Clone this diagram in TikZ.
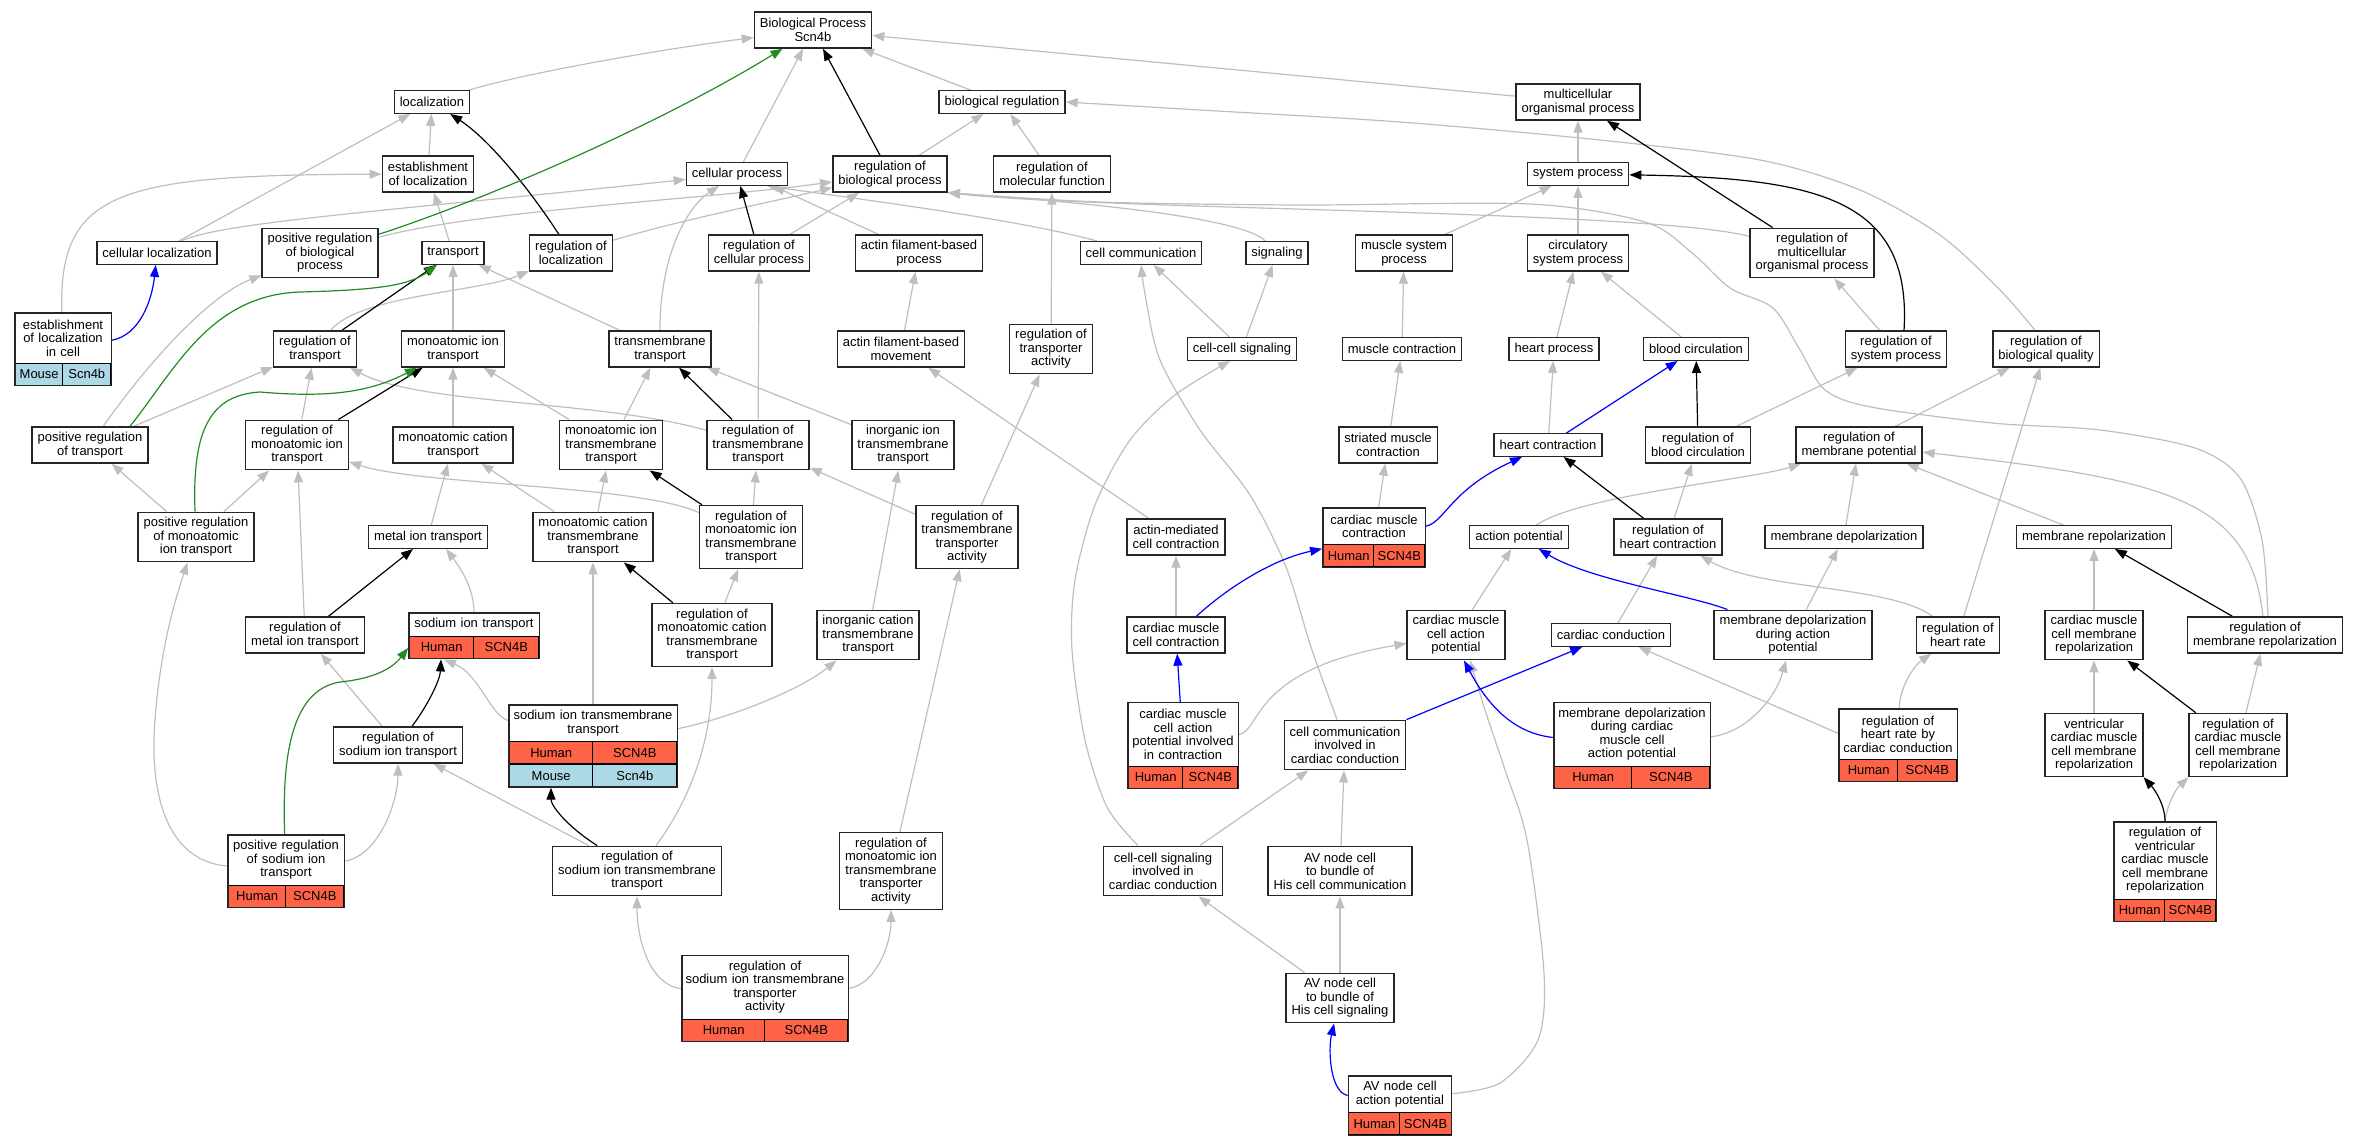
\documentclass[tikz,border=0pt]{standalone}
\usepackage{fontspec}
\setmainfont{Liberation Sans}
\usetikzlibrary{positioning,fit,arrows.meta}
\pgfdeclarelayer{background}
\pgfsetlayers{background,main}
\definecolor{isagray}{HTML}{BEBEBE}
\definecolor{posgreen}{HTML}{228B22}
\definecolor{tomato}{HTML}{FF6347}
\definecolor{mouseblue}{HTML}{ADD8E6}

\begin{document}
\begin{tikzpicture}[x=1pt, y=-1pt, >={Triangle[length=12pt,width=9pt]},
	every node/.style={font=\fontsize{13}{13.5}\selectfont},
	term/.style={draw=black!85, line width=1.4pt, fill=white, align=center, inner xsep=5.5pt, inner ysep=2pt},
	nl/.style={minimum height=#1*13.5pt+9pt},
	tabhead/.style={fill=white, align=center, inner xsep=0pt, inner ysep=2pt, text width=#1, anchor=north},
	hs/.style={draw=black, line width=0.8pt, fill=tomato, minimum height=22pt, inner sep=0pt},
	mm/.style={hs, fill=mouseblue},
	tbl/.style={draw=black!85, line width=1.4pt, inner sep=0pt},
	isa/.style={->, draw=isagray, line width=1.2pt},
	regl/.style={->, draw=black, line width=1.2pt},
	posreg/.style={->, draw=posgreen, line width=1.2pt},
	partof/.style={->, draw=blue, line width=1.2pt}]
	\useasboundingbox (0,0) rectangle (2356,1144);

	% plain terms
	\node[term, nl=2] (bp) at (813,30) {Biological Process\\Scn4b};
	\node[term, nl=1] (loc) at (432,102) {localization};
	\node[term, nl=1] (bioreg) at (1002,102) {biological regulation};
	\node[term, nl=2] (mop) at (1578,102) {multicellular\\organismal process};
	\node[term, nl=2] (estloc) at (428,174) {establishment\\of localization};
	\node[term, nl=1] (cellproc) at (737,174) {cellular process};
	\node[term, nl=2] (regbp) at (890,174) {regulation of\\biological process};
	\node[term, nl=2] (regmf) at (1052,174) {regulation of\\molecular function};
	\node[term, nl=1] (sysproc) at (1578,174) {system process};
	\node[term, nl=1] (cellloc) at (157,253) {cellular localization};
	\node[term, nl=3] (posregbp) at (320,253) {positive regulation\\of biological\\process};
	\node[term, nl=1] (transport) at (453,253) {transport};
	\node[term, nl=2] (regloc) at (571,253) {regulation of\\localization};
	\node[term, nl=2] (regcp) at (759,253) {regulation of\\cellular process};
	\node[term, nl=2] (afbp) at (919,253) {actin filament-based\\process};
	\node[term, nl=1] (cellcomm) at (1141,253) {cell communication};
	\node[term, nl=1] (signaling) at (1277,253) {signaling};
	\node[term, nl=2] (musclesys) at (1404,253) {muscle system\\process};
	\node[term, nl=2] (circsys) at (1578,253) {circulatory\\system process};
	\node[term, nl=3] (regmop) at (1812,253) {regulation of\\multicellular\\organismal process};
	\node[term, nl=2] (regtrans) at (315,349) {regulation of\\transport};
	\node[term, nl=2] (miont) at (453,349) {monoatomic ion\\transport};
	\node[term, nl=2] (tmt) at (660,349) {transmembrane\\transport};
	\node[term, nl=2] (afbm) at (901,349) {actin filament-based\\movement};
	\node[term, nl=3] (regta) at (1051,349) {regulation of\\transporter\\activity};
	\node[term, nl=1] (ccsig) at (1242,349) {cell-cell signaling};
	\node[term, nl=1] (muscont) at (1402,349) {muscle contraction};
	\node[term, nl=1] (heartproc) at (1554,349) {heart process};
	\node[term, nl=1] (bloodcirc) at (1696,349) {blood circulation};
	\node[term, nl=2] (regsys) at (1896,349) {regulation of\\system process};
	\node[term, nl=2] (regbq) at (2046,349) {regulation of\\biological quality};
	\node[term, nl=2] (posregtrans) at (90,445) {positive regulation\\of transport};
	\node[term, nl=3] (regmiont) at (297,445) {regulation of\\monoatomic ion\\transport};
	\node[term, nl=2] (mcatt) at (453,445) {monoatomic cation\\transport};
	\node[term, nl=3] (miontmt) at (611,445) {monoatomic ion\\transmembrane\\transport};
	\node[term, nl=3] (regtmt) at (758,445) {regulation of\\transmembrane\\transport};
	\node[term, nl=3] (iiontmt) at (903,445) {inorganic ion\\transmembrane\\transport};
	\node[term, nl=2] (striated) at (1388,445) {striated muscle\\contraction};
	\node[term, nl=1] (heartcont) at (1548,445) {heart contraction};
	\node[term, nl=2] (regbc) at (1698,445) {regulation of\\blood circulation};
	\node[term, nl=2] (regmp) at (1859,445) {regulation of\\membrane potential};
	\node[term, nl=3] (posregmiont) at (196,537) {positive regulation\\of monoatomic\\ion transport};
	\node[term, nl=1] (metalt) at (428,537) {metal ion transport};
	\node[term, nl=3] (mcattmt) at (593,537) {monoatomic cation\\transmembrane\\transport};
	\node[term, nl=4] (regmiontmt) at (751,537) {regulation of\\monoatomic ion\\transmembrane\\transport};
	\node[term, nl=4] (regtmta) at (967,537) {regulation of\\transmembrane\\transporter\\activity};
	\node[term, nl=2] (amcc) at (1176,537) {actin-mediated\\cell contraction};
	\node[term, nl=1] (ap) at (1519,537) {action potential};
	\node[term, nl=2] (reghc) at (1668,537) {regulation of\\heart contraction};
	\node[term, nl=1] (mdep) at (1844,537) {membrane depolarization};
	\node[term, nl=1] (mrep) at (2094,537) {membrane repolarization};
	\node[term, nl=2] (regmetal) at (305,635) {regulation of\\metal ion transport};
	\node[term, nl=4] (regmcattmt) at (712,635) {regulation of\\monoatomic cation\\transmembrane\\transport};
	\node[term, nl=3] (icattmt) at (868,635) {inorganic cation\\transmembrane\\transport};
	\node[term, nl=2] (cmcc) at (1176,635) {cardiac muscle\\cell contraction};
	\node[term, nl=3] (cmcap) at (1456,635) {cardiac muscle\\cell action\\potential};
	\node[term, nl=1] (cardcond) at (1611,635) {cardiac conduction};
	\node[term, nl=3] (mdepap) at (1793,635) {membrane depolarization\\during action\\potential};
	\node[term, nl=2] (reghr) at (1958,635) {regulation of\\heart rate};
	\node[term, nl=3] (cmcmr) at (2094,635) {cardiac muscle\\cell membrane\\repolarization};
	\node[term, nl=2] (regmr) at (2265,635) {regulation of\\membrane repolarization};
	\node[term, nl=2] (regsit) at (398,745) {regulation of\\sodium ion transport};
	\node[term, nl=3] (cccc) at (1345,745) {cell communication\\involved in\\cardiac conduction};
	\node[term, nl=4] (vcmcmr) at (2094,745) {ventricular\\cardiac muscle\\cell membrane\\repolarization};
	\node[term, nl=4] (regcmcmr) at (2238,745) {regulation of\\cardiac muscle\\cell membrane\\repolarization};
	\node[term, nl=3] (regsitmt) at (637,871) {regulation of\\sodium ion transmembrane\\transport};
	\node[term, nl=5] (regmiontmta) at (891,871) {regulation of\\monoatomic ion\\transmembrane\\transporter\\activity};
	\node[term, nl=3] (ccsigcc) at (1163,871) {cell-cell signaling\\involved in\\cardiac conduction};
	\node[term, nl=3] (avcomm) at (1340,871) {AV node cell\\to bundle of\\His cell communication};
	\node[term, nl=3] (avsig) at (1340,998) {AV node cell\\to bundle of\\His cell signaling};

	% annotated terms
	\node[tabhead=96pt, nl=3] (elcx) at (63,313) {establishment\\of localization\\in cell};
	\node[mm, minimum width=48pt, below right=0pt and 0pt of elcx.south west] (elca) {Mouse};
	\node[mm, minimum width=48pt, below left=0pt and 0pt of elcx.south east] (elcb) {Scn4b};
	\node[tbl, fit=(elcx)(elca)(elcb)] (elc) {};

	\node[tabhead=102pt, nl=2] (cmcx) at (1374,508) {cardiac muscle\\contraction};
	\node[hs, minimum width=51pt, below right=0pt and 0pt of cmcx.south west] (cmca) {Human};
	\node[hs, minimum width=51pt, below left=0pt and 0pt of cmcx.south east] (cmcb) {SCN4B};
	\node[tbl, fit=(cmcx)(cmca)(cmcb)] (cmc) {};

	\node[tabhead=130pt, nl=1] (sitx) at (474,613) {sodium ion transport};
	\node[hs, minimum width=65pt, below right=0pt and 0pt of sitx.south west] (sita) {Human};
	\node[hs, minimum width=65pt, below left=0pt and 0pt of sitx.south east] (sitb) {SCN4B};
	\node[tbl, fit=(sitx)(sita)(sitb)] (sit) {};

	\node[tabhead=168pt, nl=2] (sitmtx) at (593,705) {sodium ion transmembrane\\transport};
	\node[hs, minimum width=84pt, below right=0pt and 0pt of sitmtx.south west] (sitmta) {Human};
	\node[hs, minimum width=84pt, below left=0pt and 0pt of sitmtx.south east] (sitmtb) {SCN4B};
	\node[mm, minimum width=84pt, below=0pt of sitmta] (sitmtc) {Mouse};
	\node[mm, minimum width=84pt, below=0pt of sitmtb] (sitmtd) {Scn4b};
	\node[tbl, fit=(sitmtx)(sitmtc)(sitmtd)] (sitmt) {};

	\node[tabhead=110pt, nl=4] (cmcapcx) at (1183,702.5) {cardiac muscle\\cell action\\potential involved\\in contraction};
	\node[hs, minimum width=55pt, below right=0pt and 0pt of cmcapcx.south west] (cmcapca) {Human};
	\node[hs, minimum width=55pt, below left=0pt and 0pt of cmcapcx.south east] (cmcapcb) {SCN4B};
	\node[tbl, fit=(cmcapcx)(cmcapca)(cmcapcb)] (cmcapc) {};

	\node[tabhead=156pt, nl=4] (mdepcmx) at (1632,702.5) {membrane depolarization\\during cardiac\\muscle cell\\action potential};
	\node[hs, minimum width=78pt, below right=0pt and 0pt of mdepcmx.south west] (mdepcma) {Human};
	\node[hs, minimum width=78pt, below left=0pt and 0pt of mdepcmx.south east] (mdepcmb) {SCN4B};
	\node[tbl, fit=(mdepcmx)(mdepcma)(mdepcmb)] (mdepcm) {};

	\node[tabhead=118pt, nl=3] (reghrccx) at (1898,709) {regulation of\\heart rate by\\cardiac conduction};
	\node[hs, minimum width=59pt, below right=0pt and 0pt of reghrccx.south west] (reghrcca) {Human};
	\node[hs, minimum width=59pt, below left=0pt and 0pt of reghrccx.south east] (reghrccb) {SCN4B};
	\node[tbl, fit=(reghrccx)(reghrcca)(reghrccb)] (reghrcc) {};

	\node[tabhead=116pt, nl=3] (posregsitx) at (286,835) {positive regulation\\of sodium ion\\transport};
	\node[hs, minimum width=58pt, below right=0pt and 0pt of posregsitx.south west] (posregsita) {Human};
	\node[hs, minimum width=58pt, below left=0pt and 0pt of posregsitx.south east] (posregsitb) {SCN4B};
	\node[tbl, fit=(posregsitx)(posregsita)(posregsitb)] (posregsit) {};

	\node[tabhead=102pt, nl=5] (regvcmcmrx) at (2165,822) {regulation of\\ventricular\\cardiac muscle\\cell membrane\\repolarization};
	\node[hs, minimum width=51pt, below right=0pt and 0pt of regvcmcmrx.south west] (regvcmcmra) {Human};
	\node[hs, minimum width=51pt, below left=0pt and 0pt of regvcmcmrx.south east] (regvcmcmrb) {SCN4B};
	\node[tbl, fit=(regvcmcmrx)(regvcmcmra)(regvcmcmrb)] (regvcmcmr) {};

	\node[tabhead=166pt, nl=4] (regsitmtax) at (765,955.5) {regulation of\\sodium ion transmembrane\\transporter\\activity};
	\node[hs, minimum width=83pt, below right=0pt and 0pt of regsitmtax.south west] (regsitmtaa) {Human};
	\node[hs, minimum width=83pt, below left=0pt and 0pt of regsitmtax.south east] (regsitmtab) {SCN4B};
	\node[tbl, fit=(regsitmtax)(regsitmtaa)(regsitmtab)] (regsitmta) {};

	\node[tabhead=103pt, nl=2] (avapx) at (1400,1076) {AV node cell\\action potential};
	\node[hs, minimum width=51.5pt, below right=0pt and 0pt of avapx.south west] (avapa) {Human};
	\node[hs, minimum width=51.5pt, below left=0pt and 0pt of avapx.south east] (avapb) {SCN4B};
	\node[tbl, fit=(avapx)(avapa)(avapb)] (avap) {};

	\begin{pgfonlayer}{background}
		% is_a
		\draw[isa] (loc) .. controls (510,77) and (640,52) .. (bp);
		\draw[isa] (cellproc) -- (bp);
		\draw[isa] (bioreg) -- (bp);
		\draw[isa] (mop) -- (bp);
		\draw[isa] (regbp) -- (bioreg);
		\draw[isa] (regmf) -- (bioreg);
		\draw[isa] (estloc) -- (loc);
		\draw[isa] (cellloc) -- (loc);
		\draw[isa] (elc) .. controls (58,190) and (120,175) .. (estloc);
		\draw[isa] (cellloc) .. controls (220,222) and (400,210) .. (cellproc);
		\draw[isa] (transport) -- (estloc);
		\draw[isa] (regloc) .. controls (680,220) and (780,200) .. (regbp);
		\draw[isa] (posregbp) .. controls (480,210) and (700,200) .. (regbp);
		\draw[isa] (regcp) -- (regbp);
		\draw[isa] (tmt) .. controls (660,250) and (690,205) .. (cellproc);
		\draw[isa] (tmt) -- (transport);
		\draw[isa] (afbp) -- ([xshift=36pt]cellproc.south);
		\draw[isa] (cellcomm) .. controls (1020,220) and (880,202) .. ([xshift=30pt]cellproc.south);
		\draw[isa] (signaling) .. controls (1240,215) and (1050,200) .. (regbp.south east);
		\draw[isa] (regmop) .. controls (1650,210) and (1100,210) .. (regbp.south east);
		\draw[isa] plot[smooth] coordinates {([xshift=3pt]regmr.north) (2262,540) (2240,478) (2195,448) (2100,430) (1992,423) (1871,407) (1825,390) (1800,350) (1773,308) (1730,288) (1691,252) (1645,222) (1530,204) (1300,205) (1100,202) (regbp.south east)};
		\draw[isa] plot[smooth] coordinates {([xshift=-11pt]regbq.north) (2000,290) (1940,235) (1860,190) (1760,160) (1600,140) (1400,122) (1200,110) (bioreg.east)};
		\draw[isa] (regtrans) .. controls (360,295) and (480,292) .. (regloc);
		\draw[isa] (posregtrans) .. controls (150,360) and (210,295) .. (posregbp);
		\draw[isa] (posregtrans) -- (regtrans);
		\draw[isa] (miont) -- (transport);
		\draw[isa] (regmiont) -- (regtrans);
		\draw[isa] (posregmiont) -- (posregtrans);
		\draw[isa] (posregmiont) -- (regmiont);
		\draw[isa] (mcatt) -- (miont);
		\draw[isa] (metalt) -- (mcatt);
		\draw[isa] (mcattmt) -- (mcatt);
		\draw[isa] (mcattmt) -- (miontmt);
		\draw[isa] (miontmt) -- (miont);
		\draw[isa] (miontmt) -- (tmt);
		\draw[isa] (regmiontmt) -- (regtmt);
		\draw[isa] (regmiontmt) .. controls (640,485) and (420,485) .. (regmiont);
		\draw[isa] (regtmt) .. controls (600,400) and (420,405) .. (regtrans);
		\draw[isa] (regtmt) -- (regcp);
		\draw[isa] (regmetal) -- (regmiont);
		\draw[isa] (sit) .. controls (474,590) and (462,570) .. ([xshift=18pt]metalt.south);
		\draw[isa] (regmcattmt) -- (regmiontmt);
		\draw[isa] (regsit) -- (regmetal);
		\draw[isa] (sitmt) .. controls (490,715) and (480,675) .. ([xshift=-30pt]sit.south);
		\draw[isa] (sitmt) -- (mcattmt);
		\draw[isa] (sitmt) .. controls (730,718) and (800,690) .. (icattmt);
		\draw[isa] (posregsit) .. controls (160,860) and (150,780) .. (155,720) .. controls (160,650) and (175,600) .. (posregmiont);
		\draw[isa] (posregsit) .. controls (380,855) and (398,800) .. (regsit);
		\draw[isa] (regsitmt) -- (regsit);
		\draw[isa] (regsitmt) .. controls (690,800) and (712,740) .. (regmcattmt);
		\draw[isa] (regsitmta) .. controls (650,985) and (637,940) .. (regsitmt);
		\draw[isa] (regsitmta) .. controls (875,985) and (891,945) .. (regmiontmta);
		\draw[isa] (regmiontmta) -- (regtmta);
		\draw[isa] (regtmta) -- (regta);
		\draw[isa] (regtmta) -- (regtmt);
		\draw[isa] (iiontmt) -- (tmt);
		\draw[isa] (icattmt) -- (iiontmt);
		\draw[isa] (regta) -- (regmf);
		\draw[isa] (afbm) -- (afbp);
		\draw[isa] (amcc) -- (afbm);
		\draw[isa] (cmcc) -- (amcc);
		\draw[isa] (cmcapc) .. controls (1262,730) and (1250,670) .. (cmcap);
		\draw[isa] (ccsig) -- (cellcomm);
		\draw[isa] (ccsig) -- (signaling);
		\draw[isa] (musclesys) -- (sysproc);
		\draw[isa] (muscont) -- (musclesys);
		\draw[isa] (striated) -- (muscont);
		\draw[isa] (cmc) -- (striated);
		\draw[isa] plot[smooth] coordinates {([xshift=-8pt]cccc.north) (1311,647) (1286,567) (1250,495) (1200,430) (1160,360) (1146,300) (cellcomm.south)};
		\draw[isa] plot[smooth] coordinates {([xshift=-25pt]ccsigcc.north) (1107,807) (1085,740) (1072,650) (1075,580) (1095,505) (1130,440) (1175,395) ([xshift=-12pt]ccsig.south)};
		\draw[isa] (ccsigcc) -- (cccc);
		\draw[isa] (avcomm) -- (cccc);
		\draw[isa] (avsig) -- (ccsigcc);
		\draw[isa] (avsig) -- (avcomm);
		\draw[isa] plot[smooth] coordinates {([yshift=12pt]avap.east) (1500,1083) (1538,1040) (1544,973) (1527,840) (1505,770) (1485,710) ([xshift=14pt]cmcap.south)};
		\draw[isa] (mdepcm) .. controls (1745,733) and (1775,700) .. (mdepap);
		\draw[isa] (mdepap) -- (mdep);
		\draw[isa] (cmcap) -- (ap);
		\draw[isa] (ap) .. controls (1580,495) and (1750,480) .. (regmp);
		\draw[isa] (mdep) -- (regmp);
		\draw[isa] (mrep) -- (regmp);
		\draw[isa] (regmr) .. controls (2250,500) and (2170,480) .. (regmp);
		\draw[isa] (cmcmr) -- (mrep);
		\draw[isa] (vcmcmr) -- (cmcmr);
		\draw[isa] (regcmcmr) -- (regmr);
		\draw[isa] (regvcmcmr.north) .. controls (2167,805) and (2175,790) .. (regcmcmr.south west);
		\draw[isa] (sysproc) -- (mop);
		\draw[isa] (circsys) -- (sysproc);
		\draw[isa] (heartproc) -- (circsys);
		\draw[isa] (bloodcirc) -- (circsys);
		\draw[isa] (heartcont) -- (heartproc);
		\draw[isa] (regbc) -- (regsys);
		\draw[isa] (regsys) -- (regmop);
		\draw[isa] (regmp) -- (regbq);
		\draw[isa] (reghr) -- (regbq);
		\draw[isa] (reghr) .. controls (1890,585) and (1760,590) .. (reghc);
		\draw[isa] (reghc) -- (regbc);
		\draw[isa] (cardcond) -- (reghc);
		\draw[isa] ([yshift=12pt]reghrcc.west) -- (cardcond);
		\draw[isa] (reghrcc) .. controls (1900,685) and (1915,665) .. (reghr);
		% regulates
		\draw[regl] (regloc) .. controls (530,190) and (490,140) .. (loc);
		\draw[regl] (regcp) -- (cellproc);
		\draw[regl] (regbp) -- (bp);
		\draw[regl] (regtrans) -- (transport);
		\draw[regl] (regmiont) -- (miont);
		\draw[regl] (regmiontmt) -- (miontmt);
		\draw[regl] (regtmt) -- (tmt);
		\draw[regl] (regmetal) -- (metalt);
		\draw[regl] (regmcattmt) -- (mcattmt);
		\draw[regl] (regsit) .. controls (428,705) and (440,680) .. ([xshift=-33pt]sit.south);
		\draw[regl] (regsitmt) .. controls (565,825) and (551,805) .. ([xshift=-42pt]sitmt.south);
		\draw[regl] (regmop) -- (mop);
		\draw[regl] ([xshift=8pt]regsys.north) .. controls (1912,200) and (1820,178) .. (sysproc);
		\draw[regl] (regbc) -- (bloodcirc);
		\draw[regl] (reghc) -- (heartcont);
		\draw[regl] (regmr) -- (mrep);
		\draw[regl] (regcmcmr) -- (cmcmr);
		\draw[regl] (regvcmcmr.north) .. controls (2165,805) and (2155,790) .. (vcmcmr.south east);
		% positively regulates
		\draw[posreg] (posregbp) .. controls (470,205) and (650,130) .. (bp);
		\draw[posreg] ([xshift=40pt]posregtrans.north) .. controls (175,370) and (210,295) .. (300,292) .. controls (380,290) and (410,285) .. (transport);
		\draw[posreg] (posregmiont) .. controls (192,430) and (210,395) .. (260,392) .. controls (330,398) and (370,392) .. (miont);
		\draw[posreg] (posregsit) .. controls (282,760) and (290,690) .. (340,682) .. controls (380,678) and (395,665) .. ([yshift=-12pt]sit.west);
		% part of
		\draw[partof] (elc) .. controls (140,335) and (152,300) .. (cellloc);
		\draw[partof] (cmcc) .. controls (1225,590) and (1270,560) .. (cmc);
		\draw[partof] (cmcapc) -- (cmcc);
		\draw[partof] (cmc) .. controls (1445,522) and (1450,490) .. (heartcont);
		\draw[partof] (heartcont) -- (bloodcirc);
		\draw[partof] (cccc) -- (cardcond);
		\draw[partof] (avap) .. controls (1330,1092) and (1328,1050) .. (avsig);
		\draw[partof] (mdepcm) .. controls (1510,733) and (1485,700) .. ([xshift=8pt]cmcap.south);
		\draw[partof] (mdepap) .. controls (1690,595) and (1590,580) .. (ap);
	\end{pgfonlayer}
\end{tikzpicture}
\end{document}
